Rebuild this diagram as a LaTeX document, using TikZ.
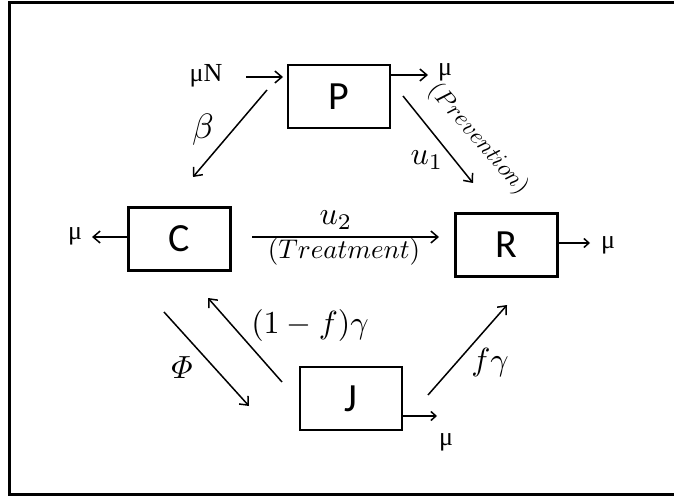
\documentclass[tikz,border=0pt]{standalone}
\usepackage{amsmath}
\usepackage{fontspec}
\newfontfamily\boxfont{Carlito}
\newfontfamily\mufont{Liberation Serif}
\usetikzlibrary{arrows.meta}
\tikzset{
  box/.style={draw,line width=2.6pt,minimum width=102pt,minimum height=63pt,inner sep=0pt,
    font=\boxfont\fontsize{40}{42}\selectfont},
  arr/.style={line width=1.5pt,-{Straight Barb[length=7pt,width=12pt,line width=1.5pt]}},
  sarr/.style={line width=1.5pt,-{Straight Barb[length=5pt,width=9pt,line width=1.5pt]}},
  mulab/.style={inner sep=0pt,font=\mufont\fontsize{26}{28}\selectfont},
  mlab/.style={inner sep=0pt,scale=3.2},
  slab/.style={inner sep=0pt,scale=2.5},
}
\begin{document}
\begin{tikzpicture}[x=1pt,y=-1pt]
\useasboundingbox (0,0) rectangle (674,497);
\clip (0,0) rectangle (674,497);
\draw[line width=3pt] (9,2.5) rectangle (700,494.5);

% boxes
\node[box] (P) at (339,96.5) {P};
\node[box] (C) at (179.5,239) {C};
\node[box] (R) at (506.5,245) {R};
\node[box] (J) at (351,398.5) {J};

% labels
\node[mulab] (muN) at (206,76) {μN};
\node[mulab] (muP) at (445,72) {μ};
\node[mulab] (muC) at (75,236) {μ};
\node[mulab] (muR) at (608,245) {μ};
\node[mulab] (muJ) at (446,442) {μ};
\node[mlab,scale=1.1] (beta) at (203,130) {$\beta$};
\node[mlab] (u1) at (427,160) {$u_1$};
\node[slab,scale=0.95,rotate=-49] (prev) at (478,139) {$(Prevention)$};
\node[mlab] (u2) at (336,220) {$u_2$};
\node[slab,scale=1.08] (treat) at (344,252) {$(Treatment)$};
\node[mlab] (phi) at (182,368) {$\varPhi$};
\node[mlab] (omf) at (310,325) {$(1-f)\gamma$};
\node[mlab] (fg) at (490,362) {$f\gamma$};

% free ends
\coordinate (a1) at (246,77);
\coordinate (a2) at (283,77);
\coordinate (b1) at (428,75);
\coordinate (c1) at (267,90);
\coordinate (c2) at (193,177);
\coordinate (d1) at (403,96);
\coordinate (d2) at (473,183);
\coordinate (e1) at (92,237);
\coordinate (f1) at (252,237);
\coordinate (f2) at (439,237);
\coordinate (g1) at (590,243);
\coordinate (h1) at (437,416);
\coordinate (i1) at (164,312);
\coordinate (i2) at (249,406);
\coordinate (j1) at (282,382);
\coordinate (j2) at (208,298);
\coordinate (k1) at (428,395);
\coordinate (k2) at (507,305);

% connectors
\draw[arr] (a1) -- (a2);
\draw[arr] (P.east |- b1) -- (b1);
\draw[arr] (c1) -- (c2);
\draw[arr] (d1) -- (d2);
\draw[arr] (C.west |- e1) -- (e1);
\draw[arr] (f1) -- (f2);
\draw[sarr] (R.east |- g1) -- (g1);
\draw[sarr] (J.east |- h1) -- (h1);
\draw[arr] (i1) -- (i2);
\draw[arr] (j1) -- (j2);
\draw[arr] (k1) -- (k2);
\end{tikzpicture}
\end{document}
